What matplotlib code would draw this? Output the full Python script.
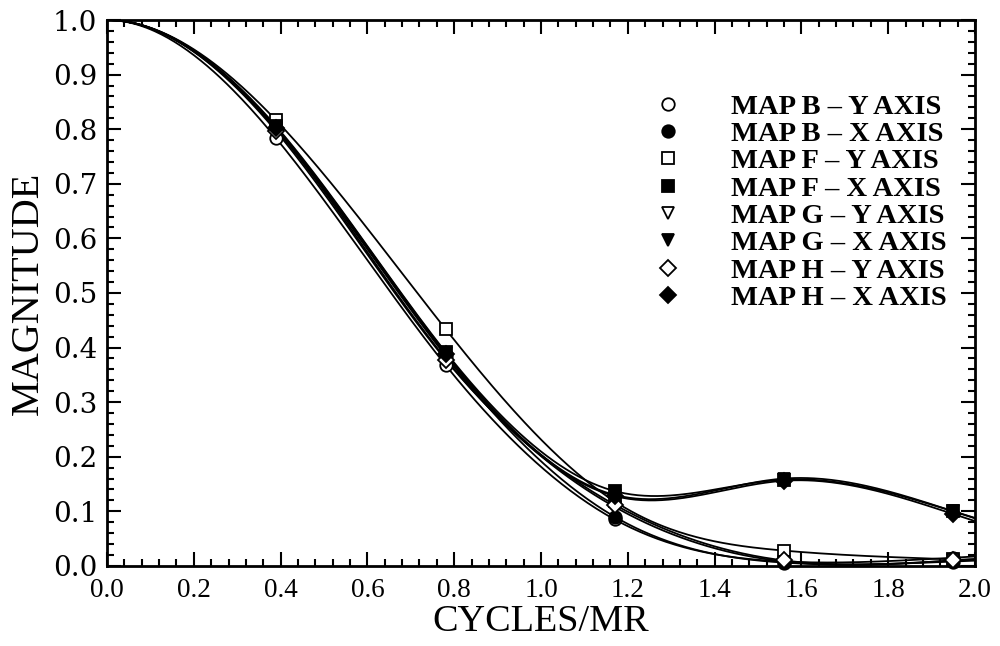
import numpy as np
import matplotlib
matplotlib.use("Agg")
import matplotlib.pyplot as plt
from matplotlib.ticker import MultipleLocator, FormatStrFormatter

# ---- data ----
freq = [0.0, 0.39, 0.78, 1.17, 1.56, 1.95]
map_b_y = [1.0, 0.783, 0.368, 0.085, 0.008, 0.015]
map_b_x = [1.0, 0.800, 0.385, 0.090, 0.006, 0.008]
map_f_y = [1.0, 0.816, 0.434, 0.118, 0.028, 0.012]
map_f_x = [1.0, 0.805, 0.392, 0.137, 0.158, 0.100]
map_g_y = [1.0, 0.800, 0.380, 0.108, 0.008, 0.010]
map_g_x = [1.0, 0.803, 0.390, 0.130, 0.160, 0.100]
map_h_y = [1.0, 0.796, 0.378, 0.112, 0.010, 0.010]
map_h_x = [1.0, 0.802, 0.388, 0.128, 0.156, 0.095]

labels = ["MAP B \u2013 Y AXIS", "MAP B \u2013 X AXIS", "MAP F \u2013 Y AXIS",
          "MAP F \u2013 X AXIS", "MAP G \u2013 Y AXIS", "MAP G \u2013 X AXIS",
          "MAP H \u2013 Y AXIS", "MAP H \u2013 X AXIS"]
series = [map_b_y, map_b_x, map_f_y, map_f_x, map_g_y, map_g_x, map_h_y, map_h_x]
markers = ["o", "o", "s", "s", "v", "v", "D", "D"]
filled = [False, True, False, True, False, True, False, True]
xticks = [0.0, 0.2, 0.4, 0.6, 0.8, 1.0, 1.2, 1.4, 1.6, 1.8, 2.0]
yticks = [0.0, 0.1, 0.2, 0.3, 0.4, 0.5, 0.6, 0.7, 0.8, 0.9, 1.0]


def spline(x, y, xe):
    """Cubic spline, zero slope at the first knot, natural at the last."""
    x = np.asarray(x, float)
    y = np.asarray(y, float)
    n = len(x)
    h = np.diff(x)
    A = np.zeros((n, n))
    b = np.zeros(n)
    A[0, 0] = 2 * h[0]
    A[0, 1] = h[0]
    b[0] = 6 * ((y[1] - y[0]) / h[0] - 0.0)
    for i in range(1, n - 1):
        A[i, i - 1] = h[i - 1]
        A[i, i] = 2 * (h[i - 1] + h[i])
        A[i, i + 1] = h[i]
        b[i] = 6 * ((y[i + 1] - y[i]) / h[i] - (y[i] - y[i - 1]) / h[i - 1])
    A[n - 1, n - 1] = 1.0
    M = np.linalg.solve(A, b)
    idx = np.clip(np.searchsorted(x, xe) - 1, 0, n - 2)
    x0, x1 = x[idx], x[idx + 1]
    hh = x1 - x0
    t0 = x1 - xe
    t1 = xe - x0
    return (M[idx] * t0 ** 3 / (6 * hh) + M[idx + 1] * t1 ** 3 / (6 * hh)
            + (y[idx] / hh - M[idx] * hh / 6) * t0
            + (y[idx + 1] / hh - M[idx + 1] * hh / 6) * t1)


fig = plt.figure(figsize=(10, 6.46), dpi=100)
ax = fig.add_axes([0.107, 0.124, 0.868, 0.845])

xs = np.linspace(0, 2.0, 400)
for ys in series:
    ax.plot(xs, spline(freq, ys, xs), color="black", lw=1.3, zorder=2)

for ys, m, f, lab in zip(series, markers, filled, labels):
    ax.plot(freq[1:], ys[1:], linestyle="none", marker=m,
            markersize=9 if m != "D" else 8,
            markerfacecolor="black" if f else "white",
            markeredgecolor="black", markeredgewidth=1.3,
            label=lab, zorder=3, clip_on=False)

ax.set_xlim(0, 2.0)
ax.set_ylim(0, 1.0)
ax.set_xticks(xticks)
ax.set_yticks(yticks)
ax.xaxis.set_major_formatter(FormatStrFormatter("%.1f"))
ax.yaxis.set_major_formatter(FormatStrFormatter("%.1f"))
ax.xaxis.set_minor_locator(MultipleLocator(0.04))
ax.yaxis.set_minor_locator(MultipleLocator(0.02))
ax.tick_params(which="both", direction="in", top=True, right=True,
               width=1.5, color="black")
ax.tick_params(which="major", length=10)
ax.tick_params(which="minor", length=5)
ax.tick_params(axis="x", which="major", pad=9)
ax.tick_params(axis="y", which="major", pad=7)
for lbl in ax.get_xticklabels():
    lbl.set_fontfamily("Liberation Serif")
    lbl.set_fontsize(19.5)
for lbl in ax.get_yticklabels():
    lbl.set_fontfamily("DejaVu Serif")
    lbl.set_fontsize(20)
for sp in ax.spines.values():
    sp.set_linewidth(2)

ax.set_xlabel("CYCLES/MR", fontfamily="Liberation Serif", fontsize=27.5,
              labelpad=1)
ax.set_ylabel("MAGNITUDE", fontfamily="Liberation Serif", fontsize=29,
              labelpad=4)

leg = ax.legend(loc="upper left", bbox_to_anchor=(0.617, 0.886),
                frameon=False, handlelength=1.0, handletextpad=1.7,
                labelspacing=0.05, borderaxespad=0,
                prop={"family": "Liberation Serif", "weight": "bold",
                      "size": 20.5})

fig.savefig("out.png", dpi=100)
